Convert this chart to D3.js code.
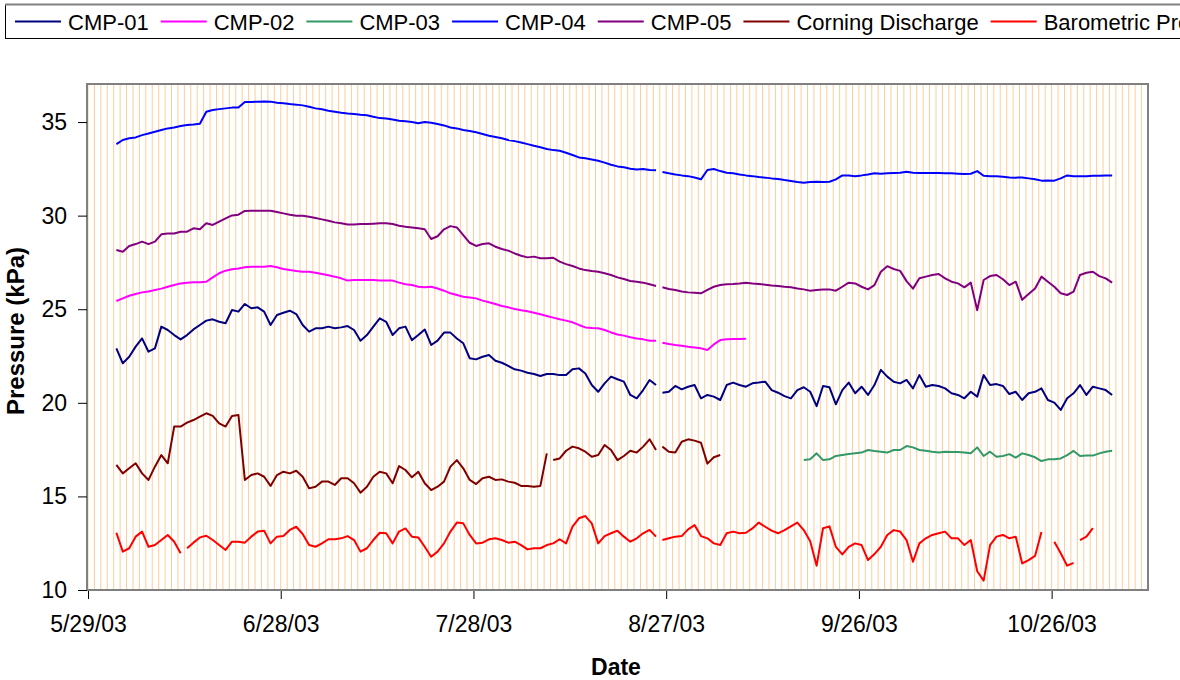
<!DOCTYPE html>
<html>
<head>
<meta charset="utf-8">
<script src="https://cdn.jsdelivr.net/npm/d3@7"></script>
<style>
  body { margin: 0; background: #fff; }
  svg { display: block; font-family: "Liberation Sans", Arial, sans-serif; }
</style>
</head>
<body>
<svg id="chart" width="1180" height="680"></svg>
<script>
// values, one reading per day from 6/2/03
const firstSample = new Date(2003, 5, 2, 10);
const sampleCount = 156;
const dates = d3.range(sampleCount).map(i => d3.timeHour.offset(firstSample, 24 * i));

const xTickLabels = ['5/29/03', '6/28/03', '7/28/03', '8/27/03', '9/26/03', '10/26/03'];
const yTicks = [10, 15, 20, 25, 30, 35];

const seriesNames  = ['CMP-01', 'CMP-02', 'CMP-03', 'CMP-04', 'CMP-05', 'Corning Discharge', 'Barometric Pressure'];
const seriesColors = ['#000080', '#FF00FF', '#339966', '#0000FF', '#800080', '#800000', '#FF0000'];
const seriesStart  = [0, 0, 107, 0, 0, 0, 0];   // index into dates of first reading

// missing records (logger gaps) per series
const gapAug25 = new Date(2003, 7, 25, 22);
const seriesGaps = [
  [gapAug25],
  [gapAug25],
  [],
  [gapAug25],
  [gapAug25],
  [new Date(2003, 7, 8, 22), gapAug25],
  [new Date(2003, 5, 12, 22), gapAug25, new Date(2003, 9, 29, 22)]
];

const cmp01 = [
  22.91, 22.11, 22.46, 23.00, 23.44, 22.73, 22.91, 24.07, 23.89, 23.62,
  23.39, 23.62, 23.92, 24.16, 24.39, 24.46, 24.33, 24.25, 24.96, 24.87,
  25.28, 25.05, 25.10, 24.87, 24.16, 24.69, 24.81, 24.92, 24.74, 24.16,
  23.80, 23.98, 23.98, 24.07, 23.98, 24.03, 24.10, 23.89, 23.32, 23.62,
  24.07, 24.51, 24.33, 23.62, 23.98, 24.07, 23.35, 23.62, 23.92, 23.09,
  23.32, 23.75, 23.75, 23.44, 23.18, 22.38, 22.32, 22.46, 22.55, 22.25,
  22.14, 21.97, 21.79, 21.72, 21.61, 21.54, 21.43, 21.54, 21.54, 21.48,
  21.48, 21.79, 21.84, 21.57, 20.95, 20.59, 21.04, 21.40, 21.26, 21.13,
  20.42, 20.24, 20.68, 21.22, 20.95, 20.54, 20.59, 20.90, 20.72, 20.86,
  20.95, 20.24, 20.42, 20.33, 20.15, 20.95, 21.08, 20.95, 20.86, 21.04,
  21.08, 21.13, 20.68, 20.54, 20.36, 20.24, 20.68, 20.83, 20.59, 19.82,
  20.90, 20.83, 19.92, 20.68, 21.08, 20.51, 20.86, 20.42, 20.95, 21.76,
  21.40, 21.13, 21.04, 21.22, 20.77, 21.48, 20.86, 20.95, 20.90, 20.77,
  20.51, 20.42, 20.24, 20.59, 20.33, 21.48, 20.95, 21.00, 20.90, 20.47,
  20.59, 20.15, 20.51, 20.59, 20.77, 20.15, 20.01, 19.62, 20.24, 20.51,
  20.95, 20.42, 20.86, 20.77, 20.68, 20.42
];
const cmp02 = [
  25.44, 25.58, 25.72, 25.81, 25.90, 25.95, 26.03, 26.10, 26.20, 26.29,
  26.38, 26.42, 26.44, 26.44, 26.47, 26.70, 26.92, 27.06, 27.13, 27.18,
  27.24, 27.27, 27.27, 27.27, 27.31, 27.24, 27.15, 27.09, 27.04, 27.00,
  27.00, 26.95, 26.88, 26.81, 26.74, 26.65, 26.53, 26.56, 26.56, 26.56,
  26.56, 26.53, 26.53, 26.53, 26.42, 26.33, 26.29, 26.20, 26.17, 26.20,
  26.11, 25.99, 25.85, 25.76, 25.67, 25.63, 25.58, 25.46, 25.37, 25.28,
  25.17, 25.10, 25.01, 24.94, 24.89, 24.81, 24.73, 24.64, 24.55, 24.46,
  24.39, 24.30, 24.16, 24.03, 24.00, 23.98, 23.89, 23.76, 23.65, 23.59,
  23.50, 23.44, 23.39, 23.32, 23.32, 23.21, 23.14, 23.09, 23.05, 23.00,
  22.96, 22.91, 22.82, 23.12, 23.35, 23.39, 23.41, 23.41, 23.42
];
const cmp03 = [
  16.94, 16.98, 17.30, 16.94, 16.98, 17.16, 17.21, 17.26, 17.30, 17.34,
  17.48, 17.43, 17.39, 17.34, 17.48, 17.48, 17.69, 17.62, 17.48, 17.44,
  17.39, 17.35, 17.39, 17.37, 17.37, 17.35, 17.30, 17.62, 17.16, 17.39,
  17.12, 17.16, 17.26, 17.07, 17.30, 17.21, 17.09, 16.89, 16.98, 16.98,
  17.03, 17.21, 17.43, 17.16, 17.18, 17.18, 17.30, 17.39, 17.44
];
const cmp04 = [
  33.82, 34.04, 34.13, 34.18, 34.30, 34.39, 34.48, 34.57, 34.66, 34.71,
  34.79, 34.84, 34.87, 34.91, 35.55, 35.64, 35.69, 35.73, 35.77, 35.78,
  36.07, 36.07, 36.09, 36.10, 36.09, 36.03, 36.00, 35.96, 35.93, 35.89,
  35.82, 35.73, 35.68, 35.60, 35.55, 35.50, 35.46, 35.43, 35.39, 35.36,
  35.28, 35.21, 35.19, 35.14, 35.07, 35.04, 35.00, 34.93, 35.00, 34.96,
  34.89, 34.82, 34.71, 34.66, 34.57, 34.52, 34.45, 34.36, 34.27, 34.20,
  34.13, 34.04, 33.98, 33.91, 33.82, 33.73, 33.65, 33.56, 33.50, 33.47,
  33.36, 33.24, 33.11, 33.06, 33.00, 32.93, 32.83, 32.72, 32.63, 32.58,
  32.51, 32.47, 32.49, 32.44, 32.42, 32.33, 32.26, 32.20, 32.15, 32.11,
  32.04, 31.94, 32.44, 32.49, 32.38, 32.29, 32.26, 32.20, 32.15, 32.11,
  32.06, 32.03, 31.99, 31.96, 31.90, 31.85, 31.80, 31.76, 31.80, 31.81,
  31.80, 31.81, 31.94, 32.15, 32.15, 32.11, 32.15, 32.20, 32.26, 32.24,
  32.26, 32.28, 32.29, 32.35, 32.29, 32.28, 32.28, 32.28, 32.28, 32.26,
  32.26, 32.24, 32.22, 32.24, 32.38, 32.13, 32.11, 32.11, 32.08, 32.04,
  32.03, 32.04, 31.99, 31.94, 31.87, 31.88, 31.87, 31.99, 32.15, 32.11,
  32.10, 32.11, 32.13, 32.13, 32.15, 32.15
];
const cmp05 = [
  28.16, 28.07, 28.38, 28.48, 28.61, 28.48, 28.61, 29.00, 29.05, 29.05,
  29.14, 29.14, 29.32, 29.27, 29.59, 29.50, 29.68, 29.85, 30.01, 30.05,
  30.25, 30.26, 30.26, 30.26, 30.26, 30.19, 30.12, 30.05, 29.99, 29.99,
  29.94, 29.87, 29.80, 29.73, 29.64, 29.59, 29.53, 29.53, 29.55, 29.55,
  29.57, 29.59, 29.59, 29.55, 29.46, 29.41, 29.37, 29.32, 29.27, 28.75,
  28.90, 29.27, 29.44, 29.37, 28.96, 28.55, 28.38, 28.48, 28.52, 28.34,
  28.22, 28.13, 27.98, 27.86, 27.77, 27.81, 27.72, 27.72, 27.75, 27.54,
  27.41, 27.31, 27.18, 27.09, 27.04, 27.00, 26.92, 26.83, 26.70, 26.61,
  26.51, 26.47, 26.42, 26.33, 26.24, 26.17, 26.08, 26.03, 25.95, 25.90,
  25.88, 25.85, 26.03, 26.20, 26.29, 26.33, 26.35, 26.38, 26.42, 26.38,
  26.35, 26.31, 26.27, 26.24, 26.20, 26.17, 26.11, 26.06, 25.99, 26.03,
  26.06, 26.06, 25.99, 26.20, 26.42, 26.38, 26.20, 26.06, 26.29, 27.00,
  27.30, 27.15, 27.05, 26.50, 26.10, 26.65, 26.74, 26.83, 26.88, 26.65,
  26.47, 26.38, 26.17, 26.42, 24.95, 26.56, 26.77, 26.83, 26.60, 26.29,
  26.47, 25.50, 25.81, 26.11, 26.74, 26.47, 26.20, 25.85, 25.76, 25.94,
  26.83, 26.95, 27.00, 26.77, 26.65, 26.42
];
const corning = [
  16.68, 16.23, 16.50, 16.77, 16.23, 15.88, 16.59, 17.21, 16.77, 18.73,
  18.73, 18.94, 19.08, 19.26, 19.44, 19.30, 18.90, 18.73, 19.30, 19.35,
  15.88, 16.14, 16.23, 16.05, 15.56, 16.14, 16.32, 16.23, 16.37, 16.05,
  15.43, 15.52, 15.79, 15.79, 15.61, 15.97, 15.97, 15.70, 15.20, 15.52,
  16.05, 16.32, 16.23, 15.70, 16.62, 16.41, 16.02, 16.32, 15.70, 15.34,
  15.52, 15.79, 16.59, 16.94, 16.50, 15.88, 15.66, 15.97, 16.05, 15.88,
  15.91, 15.79, 15.73, 15.56, 15.56, 15.52, 15.56, 17.30, 16.95, 17.03,
  17.44, 17.66, 17.57, 17.39, 17.12, 17.21, 17.75, 17.48, 16.94, 17.16,
  17.44, 17.34, 17.66, 18.05, 17.48, 17.66, 17.39, 17.34, 17.92, 18.05,
  17.98, 17.87, 16.75, 17.09, 17.21
];
const barometric = [
  13.06, 12.05, 12.23, 12.85, 13.12, 12.31, 12.40, 12.67, 12.94, 12.58,
  11.96, 12.23, 12.53, 12.81, 12.90, 12.67, 12.40, 12.14, 12.58, 12.58,
  12.53, 12.85, 13.12, 13.17, 12.49, 12.85, 12.88, 13.21, 13.38, 12.99,
  12.40, 12.31, 12.49, 12.71, 12.71, 12.76, 12.88, 12.67, 12.05, 12.23,
  12.67, 13.06, 13.03, 12.49, 13.12, 13.29, 12.85, 12.81, 12.31, 11.78,
  12.05, 12.49, 13.12, 13.60, 13.56, 12.94, 12.49, 12.53, 12.71, 12.76,
  12.67, 12.53, 12.58, 12.40, 12.17, 12.23, 12.23, 12.40, 12.49, 12.71,
  12.49, 13.38, 13.83, 13.95, 13.56, 12.49, 12.88, 13.03, 13.17, 12.85,
  12.58, 12.76, 13.03, 13.21, 12.85, 12.67, 12.76, 12.85, 12.88, 13.24,
  13.47, 12.88, 12.76, 12.49, 12.40, 13.03, 13.12, 13.03, 13.06, 13.29,
  13.60, 13.38, 13.17, 13.03, 13.20, 13.40, 13.60, 13.20, 12.60, 11.30,
  13.30, 13.40, 12.30, 11.90, 12.30, 12.49, 12.40, 11.60, 11.92, 12.31,
  12.94, 13.20, 13.12, 12.67, 11.51, 12.49, 12.76, 12.94, 13.03, 13.12,
  12.76, 12.76, 12.40, 12.67, 11.00, 10.50, 12.40, 12.85, 12.94, 12.76,
  12.85, 11.42, 11.60, 11.82, 13.10, null, 12.58, 11.96, 11.30, 11.45,
  12.67, 12.85, 13.30
];
const seriesValues = [cmp01, cmp02, cmp03, cmp04, cmp05, corning, barometric];

const parseTick = d3.timeParse('%m/%d/%y');
const fmtTick = d3.timeFormat('%-m/%-d/%y');

const plot = { left: 88, right: 1148, top: 84.6, bottom: 590 };
const svg = d3.select('#chart');

const x = d3.scaleTime()
  .domain([new Date(2003, 4, 29), new Date(2003, 10, 10)])
  .range([plot.left, plot.right]);
const y = d3.scaleLinear().domain([10, 37]).range([plot.bottom, plot.top]);

// daily gridlines
const gridDays = d3.timeDay.range(x.domain()[0], d3.timeDay.offset(x.domain()[1], 1));
svg.append('g')
  .selectAll('line')
  .data(gridDays)
  .join('line')
  .attr('x1', d => x(d)).attr('x2', d => x(d))
  .attr('y1', plot.top).attr('y2', plot.bottom)
  .attr('stroke', '#FFCC99')
  .attr('stroke-width', 1);

// plot area frame
svg.append('rect')
  .attr('x', plot.left - 1).attr('y', plot.top - 0.6)
  .attr('width', plot.right - plot.left + 1).attr('height', plot.bottom - plot.top + 0.6)
  .attr('fill', 'none').attr('stroke', '#808080').attr('stroke-width', 2);

// axes
const yAxis = svg.append('g')
  .attr('transform', `translate(${plot.left - 1},0)`)
  .call(d3.axisLeft(y).tickValues(yTicks).tickSize(9).tickPadding(11));
const xAxis = svg.append('g')
  .attr('transform', `translate(0,${plot.bottom + 1})`)
  .call(d3.axisBottom(x).tickValues(xTickLabels.map(parseTick)).tickFormat(fmtTick).tickSize(8).tickPadding(17));
[yAxis, xAxis].forEach(g => {
  g.select('.domain').remove();
  g.attr('font-family', null).attr('font-size', null);
  g.selectAll('.tick line').attr('stroke', '#000');
  g.selectAll('.tick text').attr('fill', '#000').style('font-size', '23px');
});

// axis titles
svg.append('text')
  .attr('transform', `translate(24,331) rotate(-90)`)
  .attr('text-anchor', 'middle')
  .style('font-size', '24px').style('font-weight', 'bold')
  .text('Pressure (kPa)');
svg.append('text')
  .attr('x', 616).attr('y', 675)
  .attr('text-anchor', 'middle')
  .style('font-size', '23px').style('font-weight', 'bold')
  .text('Date');

// series
const line = d3.line()
  .defined(d => d.v != null)
  .x(d => x(d.date))
  .y(d => y(d.v));

seriesValues.forEach((vals, i) => {
  const pts = vals.map((v, j) => ({ date: dates[seriesStart[i] + j], v }))
    .concat(seriesGaps[i].map(date => ({ date, v: null })))
    .sort((a, b) => a.date - b.date);
  svg.append('path')
    .datum(pts)
    .attr('fill', 'none')
    .attr('stroke', seriesColors[i])
    .attr('stroke-width', 2)
    .attr('stroke-linejoin', 'round')
    .attr('d', line);
});

// legend (runs past the right edge, as in the original)
const legend = svg.append('g');
legend.append('rect')
  .attr('x', 5.5).attr('y', 4.5).attr('width', 1250).attr('height', 34)
  .attr('fill', '#fff').attr('stroke', '#000').attr('stroke-width', 1);
legend.append('line')
  .attr('x1', 5).attr('x2', 1180).attr('y1', 4.5).attr('y2', 4.5)
  .attr('stroke', '#808080').attr('stroke-width', 2);

let lx = 15;
seriesNames.forEach((name, i) => {
  legend.append('line')
    .attr('x1', lx).attr('x2', lx + 46)
    .attr('y1', 21.5).attr('y2', 21.5)
    .attr('stroke', seriesColors[i]).attr('stroke-width', 2);
  const t = legend.append('text')
    .attr('x', lx + 53).attr('y', 29.5)
    .style('font-size', '22px')
    .text(name);
  lx += 53 + t.node().getComputedTextLength() + 12;
});
</script>
</body>
</html>
